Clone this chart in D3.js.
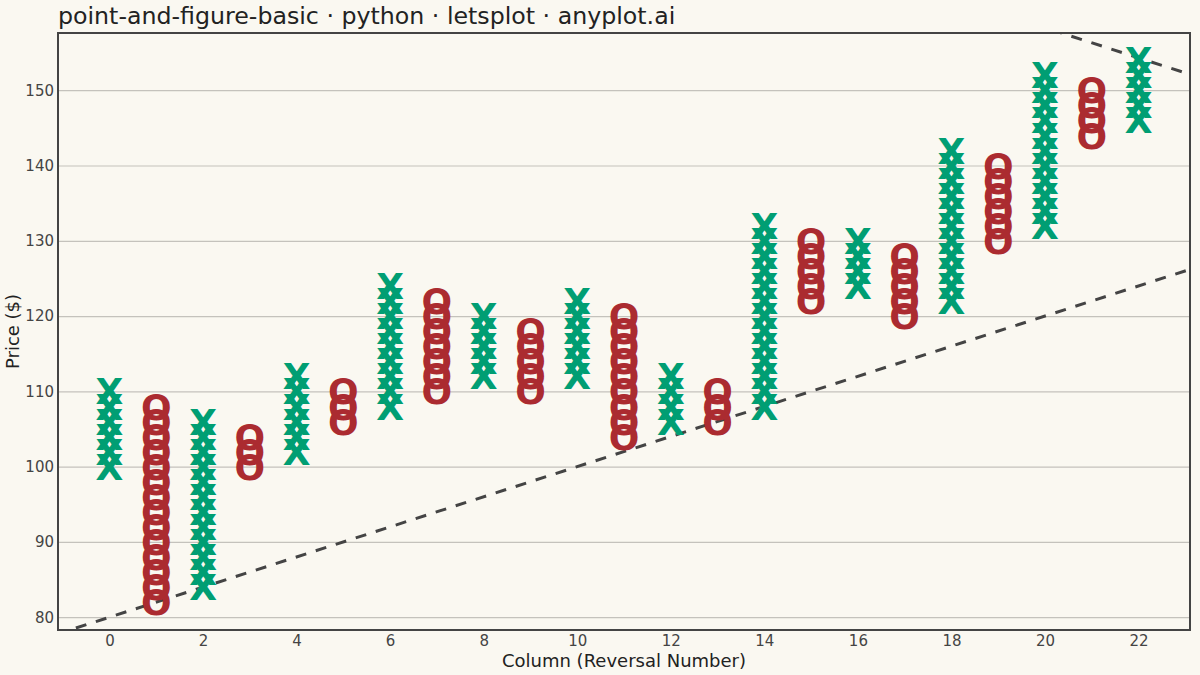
<!DOCTYPE html>
<html>
<head>
<meta charset="utf-8">
<script src="https://cdn.jsdelivr.net/npm/d3@7"></script>
<style>
  body { margin: 0; background: #FAF8F1; }
  text { font-family: "DejaVu Sans", sans-serif; }
</style>
</head>
<body>
<div id="plot"></div>
<script>
const CANVAS_WIDTH  = 1200;
const CANVAS_HEIGHT = 675;
const MARGIN = { left: 58, right: 10, top: 33, bottom: 45 };
const BOX_SIZE = 2;

// one entry per column: direction and the low / high box
const columnIds   = [0, 1, 2, 3, 4, 5, 6, 7, 8, 9, 10, 11, 12, 13, 14, 15, 16, 17, 18, 19, 20, 21, 22];
const columnTypes = ["X","O","X","O","X","O","X","O","X","O","X","O","X","O","X","O","X","O","X","O","X","O","X"];
const columnLows  = [100, 82, 84, 100, 102, 106, 108, 110, 112, 110, 112, 104, 106, 106, 108, 122, 124, 120, 122, 130, 132, 144, 146];
const columnHighs = [110, 108, 106, 104, 112, 110, 124, 122, 120, 118, 122, 120, 112, 110, 132, 130, 130, 128, 142, 140, 152, 150, 154];

const yTicks = [80, 90, 100, 110, 120, 130, 140, 150];
const xTicks = [0, 2, 4, 6, 8, 10, 12, 14, 16, 18, 20, 22];

// trend lines: [x, price] end points
const supportLine    = [[-2, 76], [24, 128]];
const resistanceLine = [[18, 162.3], [24, 150.3]];

const COLORS = { X: "#009E73", O: "#AB2B30" };

// expand each box of each column into one mark
var boxes = [];
columnIds.forEach(function(c, i) {
    for (let p = columnLows[i]; p <= columnHighs[i]; p += BOX_SIZE) {
        boxes.push({ col: c, price: p, type: columnTypes[i] });
    }
});

var svg = d3.select("#plot")
    .append("svg")
    .attr("width", CANVAS_WIDTH)
    .attr("height", CANVAS_HEIGHT)
    .style("background", "#FAF8F1");

var x_scale = d3.scaleLinear()
    .domain([-1.1, 23.1])
    .range([MARGIN.left, CANVAS_WIDTH - MARGIN.right]);

var y_scale = d3.scaleLinear()
    .domain([78.3, 157.6])
    .range([CANVAS_HEIGHT - MARGIN.bottom, MARGIN.top]);

var plotW = CANVAS_WIDTH - MARGIN.left - MARGIN.right;
var plotH = CANVAS_HEIGHT - MARGIN.top - MARGIN.bottom;

svg.append("clipPath")
   .attr("id", "panel-clip")
   .append("rect")
   .attr("x", MARGIN.left)
   .attr("y", MARGIN.top)
   .attr("width", plotW)
   .attr("height", plotH);

// horizontal grid
svg.append("g")
   .attr("class", "grid")
   .attr("transform", "translate(" + MARGIN.left + ",0)")
   .call(d3.axisLeft(y_scale).tickValues(yTicks).tickSize(-plotW).tickFormat(""))
   .call(g => g.select(".domain").remove())
   .call(g => g.selectAll("line").attr("stroke", "#C4C2BC").attr("stroke-width", 1.2));

// y axis labels
svg.append("g")
   .attr("transform", "translate(" + MARGIN.left + ",0)")
   .call(d3.axisLeft(y_scale).tickValues(yTicks).tickSize(0).tickPadding(4))
   .call(g => g.select(".domain").remove())
   .call(g => g.selectAll("text")
       .attr("fill", "#444")
       .style("font-size", "15px")
       .style("font-family", "DejaVu Sans"));

// x axis labels
svg.append("g")
   .attr("transform", "translate(0," + (CANVAS_HEIGHT - MARGIN.bottom) + ")")
   .call(d3.axisBottom(x_scale).tickValues(xTicks).tickSize(0).tickPadding(5))
   .call(g => g.select(".domain").remove())
   .call(g => g.selectAll("text")
       .attr("fill", "#444")
       .style("font-size", "15px")
       .style("font-family", "DejaVu Sans"));

// trend lines
var line = d3.line()
    .x(d => x_scale(d[0]))
    .y(d => y_scale(d[1]));

var trend = svg.append("g").attr("clip-path", "url(#panel-clip)");
[supportLine, resistanceLine].forEach(function(pts) {
    trend.append("path")
         .attr("d", line(pts))
         .attr("fill", "none")
         .attr("stroke", "#444")
         .attr("stroke-width", 3)
         .attr("stroke-dasharray", "11,10");
});

// X and O boxes as glyphs
var FONT_SIZE = 36;
svg.append("g")
   .attr("clip-path", "url(#panel-clip)")
   .selectAll("text")
   .data(boxes)
   .enter()
   .append("text")
   .attr("x", d => x_scale(d.col))
   .attr("y", d => y_scale(d.price) + FONT_SIZE * 0.729 / 2)
   .attr("text-anchor", "middle")
   .attr("fill", d => COLORS[d.type])
   .style("font-size", FONT_SIZE + "px")
   .style("font-weight", "bold")
   .text(d => d.type);

// panel border
svg.append("rect")
   .attr("x", MARGIN.left)
   .attr("y", MARGIN.top)
   .attr("width", plotW)
   .attr("height", plotH)
   .attr("fill", "none")
   .attr("stroke", "#444")
   .attr("stroke-width", 2);

// titles
svg.append("text")
   .attr("x", MARGIN.left)
   .attr("y", 24)
   .attr("fill", "#222")
   .style("font-size", "23.7px")
   .text("point-and-figure-basic · python · letsplot · anyplot.ai");

svg.append("text")
   .attr("x", MARGIN.left + plotW / 2)
   .attr("y", 667)
   .attr("text-anchor", "middle")
   .attr("fill", "#222")
   .style("font-size", "18px")
   .text("Column (Reversal Number)");

svg.append("text")
   .attr("transform", "translate(19," + (MARGIN.top + plotH / 2) + ") rotate(-90)")
   .attr("text-anchor", "middle")
   .attr("fill", "#222")
   .style("font-size", "18px")
   .text("Price ($)");
</script>
</body>
</html>
